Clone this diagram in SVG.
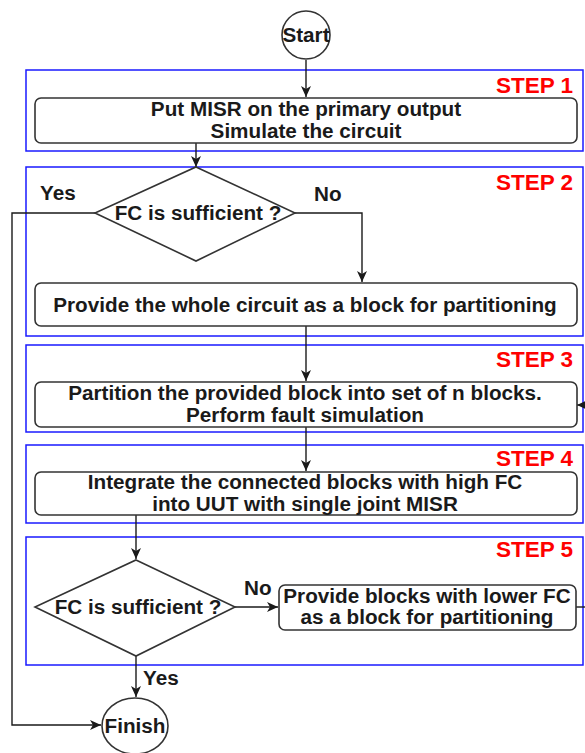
<svg xmlns="http://www.w3.org/2000/svg" width="585" height="753" viewBox="0 0 585 753">
<defs>
<style>
.step{fill:none;stroke:#1a1aff;stroke-width:1.5}
.box{fill:#fff;stroke:#333;stroke-width:1.6}
.t{font-family:"Liberation Sans",Arial,sans-serif;font-weight:bold;font-size:20.7px;fill:#1a1a1a;text-anchor:middle}
.lbl{font-family:"Liberation Sans",Arial,sans-serif;font-weight:bold;font-size:20.7px;fill:#1a1a1a}
.sl{font-family:"Liberation Sans",Arial,sans-serif;font-weight:bold;font-size:22.5px;fill:#ff0000;text-anchor:end}
.c{fill:none;stroke:#1a1a1a;stroke-width:1.4}
</style>
<marker id="ah" markerUnits="userSpaceOnUse" markerWidth="12" markerHeight="10" refX="11" refY="5" orient="auto">
<path d="M0,0 L11,5 L0,10 L3,5 z" fill="#1a1a1a"/>
</marker>
</defs>
<rect width="585" height="753" fill="#fff"/>

<g id="step1"><rect class="step" x="26" y="70" width="557" height="81"/><text class="sl" x="573" y="93">STEP 1</text></g>
<g id="step2"><rect class="step" x="26" y="167" width="557" height="169"/><text class="sl" x="573" y="190">STEP 2</text></g>
<g id="step3"><rect class="step" x="26" y="345" width="557" height="87"/><text class="sl" x="573" y="367">STEP 3</text></g>
<g id="step4"><rect class="step" x="26" y="445" width="557" height="78"/><text class="sl" x="573" y="466">STEP 4</text></g>
<g id="step5"><rect class="step" x="26" y="537" width="557" height="128"/><text class="sl" x="573" y="557">STEP 5</text></g>

<g id="connectors">
<line class="c" x1="306" y1="60" x2="306" y2="97" marker-end="url(#ah)"/>
<line class="c" x1="196" y1="143" x2="196" y2="167" marker-end="url(#ah)"/>
<polyline class="c" points="295,213 362,213 362,282" marker-end="url(#ah)"/>
<polyline class="c" points="95,213 12,213 12,725 101,725" marker-end="url(#ah)"/>
<line class="c" x1="306" y1="326" x2="306" y2="381" marker-end="url(#ah)"/>
<line class="c" x1="306" y1="427" x2="306" y2="471" marker-end="url(#ah)"/>
<line class="c" x1="136" y1="515" x2="136" y2="559" marker-end="url(#ah)"/>
<line class="c" x1="235" y1="607" x2="278" y2="607" marker-end="url(#ah)"/>
<line class="c" x1="576" y1="607" x2="590" y2="607"/>
<line class="c" x1="592" y1="405" x2="577" y2="405" marker-end="url(#ah)"/>
<line class="c" x1="136" y1="656" x2="136" y2="697" marker-end="url(#ah)"/>
<text class="lbl" x="40" y="200">Yes</text>
<text class="lbl" x="314" y="201">No</text>
<text class="lbl" x="244" y="595">No</text>
<text class="lbl" x="143" y="685">Yes</text>
</g>

<g id="start"><ellipse cx="306" cy="35" rx="24" ry="24" fill="#fff" stroke="#333" stroke-width="1.6"/><text class="t" x="306" y="42">Start</text></g>
<g id="box1"><rect class="box" x="35" y="98" width="542" height="45" rx="6"/><text class="t" x="306" y="116">Put MISR on the primary output</text><text class="t" x="306" y="138">Simulate the circuit</text></g>
<g id="dec1"><polygon points="196,167 295,213 196,261 95,213" fill="#fff" stroke="#333" stroke-width="1.6"/><text class="t" x="198" y="220">FC is sufficient ?</text></g>
<g id="box2"><rect class="box" x="35" y="283" width="542" height="43" rx="6"/><text class="t" x="305" y="312">Provide the whole circuit as a block for partitioning</text></g>
<g id="box3"><rect class="box" x="35" y="382" width="542" height="45" rx="6"/><text class="t" x="305" y="400">Partition the provided block into set of n blocks.</text><text class="t" x="305" y="422">Perform fault simulation</text></g>
<g id="box4"><rect class="box" x="35" y="472" width="542" height="43" rx="6"/><text class="t" x="305" y="489">Integrate the connected blocks with high FC</text><text class="t" x="305" y="511">into UUT with single joint MISR</text></g>
<g id="dec2"><polygon points="136,560 235,607 136,656 35,607" fill="#fff" stroke="#333" stroke-width="1.6"/><text class="t" x="138" y="614">FC is sufficient ?</text></g>
<g id="box5"><rect class="box" x="279" y="585" width="297" height="45" rx="6"/><text class="t" x="427" y="603">Provide blocks with lower FC</text><text class="t" x="427" y="624">as a block for partitioning</text></g>
<g id="finish"><ellipse cx="135" cy="726" rx="33" ry="28" fill="#fff" stroke="#333" stroke-width="1.6"/><text class="t" x="135" y="733">Finish</text></g>
</svg>
